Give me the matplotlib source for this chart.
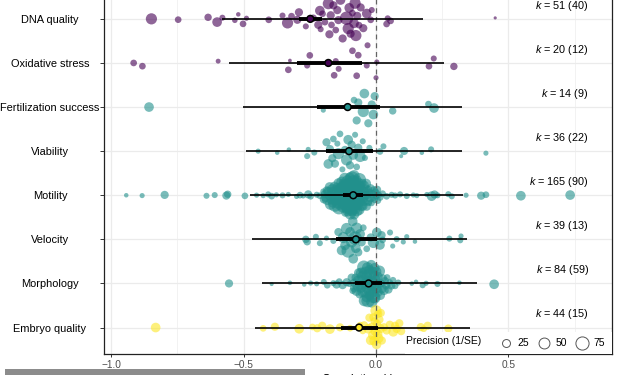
import numpy as np
import matplotlib
matplotlib.use("Agg")
import matplotlib.pyplot as plt
from matplotlib.lines import Line2D
from matplotlib.patches import Rectangle

plt.rcParams['font.family'] = 'Liberation Sans'
plt.rcParams['mathtext.fontset'] = 'custom'
plt.rcParams['mathtext.it'] = 'Liberation Sans:italic'
plt.rcParams['mathtext.rm'] = 'Liberation Sans'

categories = ["DNA quality", "Oxidative stress", "Fertilization success", "Viability",
              "Motility", "Velocity", "Morphology", "Embryo quality"]
k_effects = [51, 20, 14, 36, 165, 39, 84, 44]
k_studies = [40, 12, 9, 22, 90, 13, 59, 15]
estimate = [-0.248, -0.180, -0.107, -0.102, -0.086, -0.076, -0.028, -0.064]
ci_low = [-0.290, -0.297, -0.222, -0.187, -0.124, -0.151, -0.079, -0.134]
ci_high = [-0.205, -0.054, 0.015, -0.013, -0.048, 0.003, 0.021, 0.006]
pi_low = [-0.583, -0.554, -0.502, -0.491, -0.476, -0.470, -0.430, -0.457]
pi_high = [0.179, 0.257, 0.326, 0.324, 0.330, 0.343, 0.381, 0.353]
colours = ["#440154", "#440154", "#21908C", "#21908C", "#21908C", "#21908C", "#21908C", "#FDE725"]

# effect sizes (r) and precision (1/SE) per outcome
dna_r = [-0.848, -0.747, -0.634, -0.600, -0.580, -0.533, -0.520, -0.502, -0.489, -0.405,
         -0.353, -0.334, -0.319, -0.297, -0.291, -0.265, -0.237, -0.218, -0.212, -0.209,
         -0.202, -0.193, -0.180, -0.176, -0.171, -0.168, -0.161, -0.152, -0.146, -0.142,
         -0.134, -0.126, -0.111, -0.105, -0.101, -0.096, -0.089, -0.083, -0.079, -0.076,
         -0.071, -0.064, -0.058, -0.048, -0.035, -0.020, -0.016, 0.040, 0.044, 0.055, 0.450]
dna_prec = [62, 22, 27, 46, 18, 15, 10, 22, 13, 22, 18, 62, 22, 33, 33, 18, 27, 33, 46, 18,
            22, 22, 62, 33, 33, 22, 33, 22, 33, 33, 46, 33, 89, 62, 46, 33, 22, 46, 62, 62,
            33, 22, 33, 33, 46, 22, 18, 22, 18, 22, 5]

ox_r = [-0.915, -0.882, -0.596, -0.331, -0.325, -0.260, -0.250, -0.158, -0.152, -0.141,
        -0.089, -0.073, -0.067, -0.035, -0.032, 0.003, 0.000, 0.200, 0.218, 0.294]
ox_prec = [22, 22, 12, 22, 7, 18, 22, 22, 18, 18, 22, 22, 22, 18, 18, 13, 13, 22, 18, 27]

fert_r = [-0.857, -0.199, -0.083, -0.073, -0.067, -0.048, -0.044, -0.029, -0.016, -0.010,
          -0.005, 0.063, 0.198, 0.219]
fert_prec = [46, 13, 22, 33, 33, 62, 46, 33, 33, 46, 33, 27, 22, 46]

via_r = [-0.445, -0.373, -0.329, -0.260, -0.256, -0.233, -0.187, -0.180, -0.174, -0.165,
         -0.161, -0.155, -0.146, -0.142, -0.136, -0.127, -0.117, -0.111, -0.105, -0.098,
         -0.092, -0.086, -0.079, -0.073, -0.067, -0.060, -0.050, -0.042, -0.025, 0.015,
         0.028, 0.095, 0.106, 0.173, 0.208, 0.415]
via_prec = [13, 10, 10, 18, 13, 18, 33, 46, 33, 33, 22, 33, 18, 62, 22, 18, 33, 62, 46, 33,
            33, 46, 18, 22, 33, 62, 18, 18, 18, 22, 18, 8, 33, 10, 18, 13]

mot_r = [-0.943, -0.883, -0.798, -0.640, -0.609, -0.565, -0.560, -0.495, -0.451, -0.426,
         -0.407, -0.394, -0.376, -0.353, -0.331, -0.300, -0.287, -0.275, -0.256, -0.247,
         -0.224, -0.212, -0.199,
         -0.190, -0.186, -0.183, -0.180, -0.178, -0.175, -0.172, -0.170, -0.168, -0.165,
         -0.163, -0.161, -0.159, -0.157, -0.155, -0.153, -0.151, -0.149, -0.147, -0.145,
         -0.144, -0.142, -0.140, -0.139, -0.137, -0.135, -0.134, -0.132, -0.131, -0.129,
         -0.128, -0.126, -0.125, -0.123, -0.122, -0.120, -0.119, -0.118, -0.116, -0.115,
         -0.114, -0.112, -0.111, -0.110, -0.108, -0.107, -0.106, -0.105, -0.103, -0.102,
         -0.101, -0.100, -0.099, -0.097, -0.096, -0.095, -0.094, -0.093, -0.092, -0.090,
         -0.089, -0.088, -0.087, -0.086, -0.085, -0.084, -0.083, -0.082, -0.080, -0.079,
         -0.078, -0.077, -0.076, -0.075, -0.073, -0.072, -0.071, -0.070, -0.068, -0.067,
         -0.066, -0.064, -0.063, -0.062, -0.060, -0.059, -0.057, -0.056, -0.054, -0.053,
         -0.051, -0.050, -0.048, -0.046, -0.045, -0.043, -0.041, -0.039, -0.037, -0.035,
         -0.033, -0.031, -0.029, -0.027, -0.025, -0.022, -0.020, -0.017, -0.014, -0.011,
         -0.008, -0.005, -0.002, 0.001, 0.004, 0.007, 0.010, -0.197, -0.193, -0.115,
         -0.092, -0.083,
         0.015, 0.025, 0.040, 0.059, 0.072, 0.091, 0.116, 0.141, 0.154, 0.192,
         0.210, 0.221, 0.232, 0.273, 0.286, 0.340, 0.397, 0.415, 0.547, 0.733]
mot_prec = [10, 13, 33, 18, 18, 33, 27, 22, 13, 13, 18, 22, 13, 18, 13, 13, 22, 13, 33, 22,
            18, 22, 18,
            46, 33, 62, 46, 33, 46, 62, 33, 46, 62,
            46, 62, 33, 46, 89, 46, 62, 33, 62, 46,
            62, 46, 89, 62, 46, 33, 62, 89, 46, 62,
            46, 89, 62, 46, 62, 89, 46, 62, 33, 62,
            89, 46, 62, 89, 62, 46, 89, 62, 46, 89,
            62, 89, 46, 62, 89, 62, 46, 89, 62, 89,
            46, 62, 89, 62, 46, 89, 62, 46, 89, 62,
            89, 46, 62, 89, 46, 62, 46, 89, 62, 46,
            62, 46, 89, 46, 62, 46, 33, 62, 46, 62,
            33, 46, 62, 33, 46, 33, 46, 33, 46, 33,
            33, 46, 33, 22, 33, 46, 33, 22, 33, 22,
            33, 22, 33, 22, 33, 22, 22, 33, 33, 62,
            62, 62,
            27, 22, 22, 18, 18, 18, 18, 13, 13, 13, 46, 33, 18, 18, 18, 13, 33, 22, 46, 46]

vel_r = [-0.265, -0.260, -0.227, -0.212, -0.187, -0.161, -0.142, -0.130, -0.123, -0.117,
         -0.111, -0.105, -0.098, -0.092, -0.088, -0.086, -0.079, -0.076, -0.073, -0.067,
         -0.060, -0.054, -0.048, -0.035, -0.020, -0.010, 0.003, 0.015, 0.021, 0.025,
         0.053, 0.063, 0.078, 0.103, 0.116, 0.147, 0.277, 0.318, 0.321]
vel_prec = [27, 27, 18, 18, 13, 18, 33, 46, 62, 46, 62, 89, 46, 62, 46, 46, 89, 46, 62, 33,
            46, 33, 22, 22, 33, 62, 46, 46, 33, 22, 18, 13, 18, 13, 13, 10, 18, 18, 13]

mor_r = [-0.555, -0.394, -0.325, -0.271, -0.247, -0.224, -0.197, -0.184, -0.161, -0.149,
         -0.139, -0.126, -0.111, -0.101,
         -0.092, -0.088, -0.084, -0.080, -0.077, -0.074, -0.071, -0.068, -0.065, -0.062,
         -0.060, -0.057, -0.055, -0.052, -0.050, -0.048, -0.046, -0.044, -0.042, -0.040,
         -0.038, -0.036, -0.034, -0.032, -0.030, -0.028, -0.026, -0.024, -0.022, -0.020,
         -0.018, -0.016, -0.014, -0.012, -0.010, -0.008, -0.006, -0.004, -0.002, 0.000,
         0.002, 0.004, 0.007, 0.010, 0.013, 0.016, 0.019, 0.022, 0.026, 0.030,
         0.034, 0.038, 0.042, 0.047, 0.052, 0.058, 0.064, -0.035, -0.025, -0.015,
         -0.005,
         0.072, 0.084, 0.135, 0.151, 0.176, 0.189, 0.232, 0.315, 0.446]
mor_prec = [33, 8, 10, 10, 13, 13, 18, 22, 18, 33, 22, 33, 33, 18,
            33, 22, 33, 46, 33, 46, 33, 62, 46, 33,
            62, 46, 62, 46, 62, 46, 89, 62, 46, 62,
            89, 46, 62, 62, 89, 46, 62, 46, 89, 62,
            46, 62, 62, 46, 89, 62, 46, 62, 46, 62,
            46, 62, 46, 33, 62, 46, 33, 46, 33, 46,
            33, 33, 22, 33, 22, 33, 22, 62, 46, 62,
            46,
            22, 18, 10, 10, 18, 13, 18, 10, 46]

emb_r = [-0.832, -0.426, -0.382, -0.290, -0.222, -0.203, -0.174, -0.136, -0.098, -0.029,
         -0.025, -0.020, -0.016, -0.012, -0.010, -0.007, -0.005, -0.002, 0.000, 0.002,
         0.004, 0.006, 0.008, 0.010, 0.013, 0.015, 0.018, 0.022, 0.040, 0.052,
         0.065, 0.072, 0.078, 0.088, 0.169, 0.195, 0.273, -0.060, -0.045, -0.050,
         0.030, 0.095, 0.180, -0.240]
emb_prec = [46, 22, 33, 46, 33, 33, 46, 33, 22, 46, 33, 46, 33, 46, 33, 46, 33, 46, 62, 46,
            33, 46, 33, 46, 33, 46, 33, 33, 33, 33, 46, 33, 33, 33, 33, 33, 33, 22, 33, 22,
            33, 33, 22, 22]

effects = [dna_r, ox_r, fert_r, via_r, mot_r, vel_r, mor_r, emb_r]
precisions = [dna_prec, ox_prec, fert_prec, via_prec, mot_prec, vel_prec, mor_prec, emb_prec]

SIZE_K = 1.05  # marker area (pt^2) per unit of precision


def van_der_corput(n, base=2):
    out = []
    for i in range(1, n + 1):
        v, denom, k = 0.0, 1.0, i
        while k:
            denom *= base
            k, rem = divmod(k, base)
            v += rem / denom
        out.append(v)
    return np.array(out)


def quasi_offsets(x, width=0.47, adjust=0.5):
    # quasirandom layout like ggbeeswarm::geom_quasirandom
    x = np.asarray(x, float)
    n = len(x)
    sd = x.std(ddof=1)
    q75, q25 = np.percentile(x, [75, 25])
    lo = min(sd, (q75 - q25) / 1.34) or sd
    bw = 0.9 * lo * n ** -0.2 * adjust
    dens = np.exp(-0.5 * ((x[:, None] - x[None, :]) / bw) ** 2).sum(1)
    dens /= dens.max()
    ranks = np.argsort(np.argsort(x, kind="stable"), kind="stable")
    return (van_der_corput(n)[ranks] - 0.5) * 2 * width * dens


fig = plt.figure(figsize=(6.34, 3.75), dpi=100)
ax = fig.add_axes([104 / 634, 21 / 375, 508 / 634, 361.6 / 375])

ypos = np.arange(len(categories), 0, -1)

for i in range(len(categories)):
    r = np.array(effects[i])
    p = np.array(precisions[i])
    off = quasi_offsets(r)
    ax.scatter(r, ypos[i] + off, s=SIZE_K * p, color=colours[i], alpha=0.6,
               linewidths=0, zorder=2)

ax.axvline(0, color="#555555", lw=0.9, ls=(0, (4, 3)), alpha=0.9, zorder=3)
ax.hlines(ypos, pi_low, pi_high, color="black", lw=1.2, zorder=4)
ax.hlines(ypos, ci_low, ci_high, color="black", lw=2.8, zorder=4)
ax.scatter(estimate, ypos, s=24, c=colours, edgecolors="black", linewidths=1.1, zorder=5)

for i in range(len(categories)):
    ax.text(0.804, ypos[i] + 0.3, "$k$ = %d (%d)" % (k_effects[i], k_studies[i]),
            ha="right", va="center", fontsize=7.8, zorder=6)

ax.set_xlim(-1.027, 0.891)
ax.set_ylim(0.4, 8.6)
ax.set_xticks([-1.0, -0.5, 0.0, 0.5])
ax.set_xticklabels(["\u22121.0", "\u22120.5", "0.0", "0.5"])
ax.set_xticks([-0.75, -0.25, 0.25, 0.75], minor=True)
ax.set_yticks(ypos)
ax.set_yticklabels(categories, ha="center")
ax.grid(which="major", color="#EBEBEB", lw=0.9, zorder=0)
ax.grid(which="minor", axis="x", color="#F0F0F0", lw=0.6, zorder=0)
ax.set_axisbelow(True)
ax.tick_params(axis="x", which="major", length=2.5, width=0.7, color="#333333",
               labelsize=7.3, labelcolor="#4D4D4D", pad=2)
ax.tick_params(axis="x", which="minor", length=0)
ax.tick_params(axis="y", length=2.9, width=0.7, color="#333333", labelsize=7.9,
               labelcolor="black", pad=36.0)
for sp in ax.spines.values():
    sp.set_linewidth(0.9)
    sp.set_color("#222222")

ax.set_xlabel("Correlation ($r$)", fontsize=8.5, labelpad=1.0)

# legend
ax.add_patch(Rectangle((0.593, 0.0), 0.407, 0.061, transform=ax.transAxes,
                       facecolor="white", edgecolor="none", zorder=6))
sizes = [25, 50, 75]
handles = [Line2D([], [], marker="o", ls="none", markersize=np.sqrt(SIZE_K * v) + 0.6,
                  markerfacecolor="none", markeredgecolor="#555555", markeredgewidth=0.7)
           for v in sizes]
leg = ax.legend(handles, [str(v) for v in sizes], ncol=3, loc="lower right",
                bbox_to_anchor=(1.0, -0.004), frameon=False, fontsize=7.5,
                handletextpad=0.45, columnspacing=0.9, handlelength=1.2,
                borderaxespad=0.3)
leg.set_zorder(7)
ax.text(0.743, 0.035, "Precision (1/SE)", transform=ax.transAxes, ha="right",
        va="center", fontsize=7.5, zorder=7)

# grey caption strip cut off at the bottom of the image
fig.patches.append(Rectangle((5 / 634, 0), 300 / 634, 6 / 375, transform=fig.transFigure,
                             facecolor="#8c8c8c", edgecolor="none"))

fig.savefig("out.png", dpi=100)
